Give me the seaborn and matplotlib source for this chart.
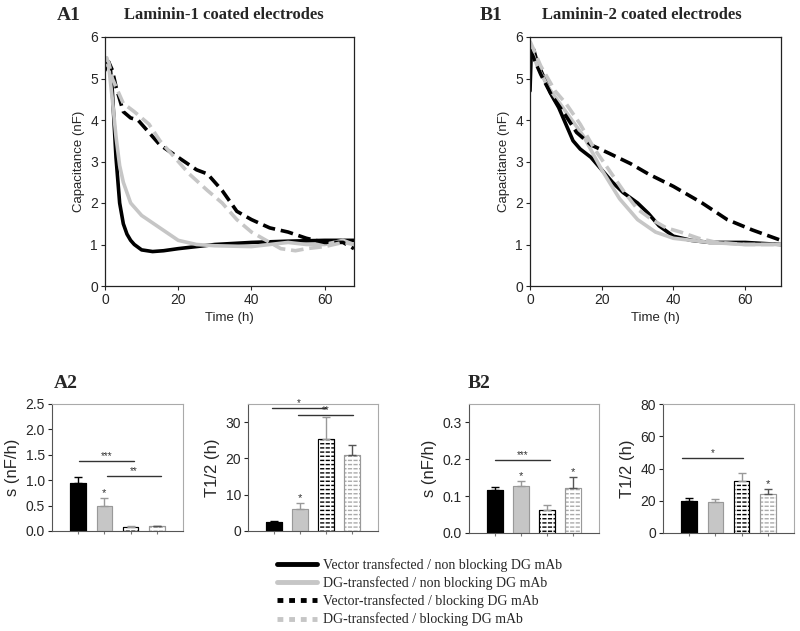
import numpy as np
import pandas as pd
import matplotlib
matplotlib.use("Agg")
import matplotlib.pyplot as plt
from matplotlib.lines import Line2D
import seaborn as sns

sns.set_style("ticks")
plt.rcParams['font.family'] = ['Liberation Sans', 'DejaVu Sans']

# ---- time course data ----
# A1 : laminin-1
a1_vec_t = [0, 0.5, 1, 1.5, 2, 2.5, 3, 4, 5, 6, 7, 8, 10, 13, 16, 20, 25, 30, 40, 50, 60, 68]
a1_vec_y = [5.2, 5.4, 5.4, 5.2, 4.7, 3.9, 3.1, 2.0, 1.5, 1.25, 1.1, 1.0, 0.87, 0.83, 0.85, 0.9, 0.95, 1.0, 1.05, 1.08, 1.1, 1.1]
a1_dg_t = [0, 0.5, 1, 2, 3, 4, 5, 7, 10, 15, 20, 25, 30, 40, 45, 50, 55, 60, 65, 68]
a1_dg_y = [5.3, 5.5, 5.3, 4.5, 3.6, 2.9, 2.5, 2.0, 1.7, 1.4, 1.1, 1.0, 0.97, 0.95, 1.0, 1.05, 1.0, 1.0, 1.1, 1.0]
a1_vecb_t = [0, 1, 2, 3, 5, 7, 9, 12, 15, 20, 25, 28, 32, 36, 40, 45, 50, 55, 60, 65, 68]
a1_vecb_y = [5.4, 5.4, 5.2, 4.8, 4.2, 4.05, 4.0, 3.7, 3.4, 3.1, 2.8, 2.7, 2.3, 1.8, 1.6, 1.4, 1.3, 1.15, 1.05, 1.05, 0.9]
a1_dgb_t = [0, 1, 2, 5, 8, 12, 15, 20, 23, 28, 32, 36, 40, 45, 48, 52, 55, 60, 65, 68]
a1_dgb_y = [5.5, 5.4, 5.0, 4.4, 4.2, 3.9, 3.5, 3.0, 2.7, 2.3, 2.0, 1.6, 1.3, 1.05, 0.9, 0.85, 0.9, 0.95, 1.05, 1.0]

# B1 : laminin-2
b1_vec_t = [0, 0.3, 1, 2, 4, 6, 8, 10, 12, 14, 17, 20, 23, 26, 30, 33, 36, 40, 45, 50, 55, 60, 70]
b1_vec_y = [4.7, 5.5, 5.7, 5.4, 5.0, 4.6, 4.3, 3.9, 3.5, 3.3, 3.1, 2.8, 2.5, 2.25, 2.0, 1.75, 1.45, 1.2, 1.1, 1.05, 1.05, 1.05, 1.0]
b1_dg_t = [0, 2, 5, 10, 15, 20, 25, 30, 35, 40, 45, 50, 60, 70]
b1_dg_y = [5.8, 5.3, 4.8, 4.2, 3.6, 2.8, 2.1, 1.6, 1.3, 1.15, 1.1, 1.05, 1.0, 1.0]
b1_vecb_t = [0, 3, 6, 10, 13, 17, 22, 28, 33, 40, 48, 55, 62, 70]
b1_vecb_y = [5.7, 5.1, 4.6, 4.1, 3.7, 3.4, 3.2, 2.95, 2.7, 2.4, 2.0, 1.6, 1.35, 1.1]
b1_dgb_t = [0, 3, 7, 10, 14, 18, 22, 26, 30, 34, 38, 42, 47, 52, 60, 70]
b1_dgb_y = [5.9, 5.3, 4.7, 4.4, 3.9, 3.3, 2.8, 2.3, 1.85, 1.6, 1.4, 1.3, 1.15, 1.05, 1.0, 1.0]

# ---- bar data ----
groups = ["vec", "dg", "vec_block", "dg_block"]
a2_s = [0.95, 0.50, 0.08, 0.09]
a2_s_err = [0.11, 0.15, 0.01, 0.01]
a2_t = [2.5, 6.2, 25.3, 21.0]
a2_t_err = [0.3, 1.5, 6.0, 2.7]
b2_s = [0.118, 0.128, 0.063, 0.123]
b2_s_err = [0.008, 0.014, 0.012, 0.028]
b2_t = [20.0, 19.5, 32.0, 24.0]
b2_t_err = [2.0, 1.8, 5.0, 3.5]

legend_labels = ["Vector transfected / non blocking DG mAb",
                 "DG-transfected / non blocking DG mAb",
                 "Vector-transfected / blocking DG mAb",
                 "DG-transfected / blocking DG mAb"]

GREY = "#c6c6c6"
W, H = 800, 631
fig = plt.figure(figsize=(8, 6.31), dpi=100)


def box(x0, y0, x1, y1):
    return [x0 / W, 1 - y1 / H, (x1 - x0) / W, (y1 - y0) / H]


def time_panel(ax, series, xmax):
    styles = [("black", "-"), (GREY, "-"), ("black", (0, (3.5, 1.6))), (GREY, (0, (3.5, 1.6)))]
    for (t, y), (c, ls) in zip(series, styles):
        d = pd.DataFrame({"t": t, "y": y})
        sns.lineplot(data=d, x="t", y="y", ax=ax, color=c, lw=2.6, linestyle=ls)
    ax.set_xlim(0, xmax)
    ax.set_ylim(0, 6)
    ax.set_xticks([0, 20, 40, 60])
    ax.set_yticks(range(7))
    ax.set_xlabel("Time (h)", fontsize=9.5)
    ax.set_ylabel("Capacitance (nF)", fontsize=9.5)
    ax.tick_params(labelsize=10, length=3, width=0.8, pad=2)
    for s in ax.spines.values():
        s.set_linewidth(0.9)
        s.set_color("#222222")


ax1 = fig.add_axes(box(105, 37, 354, 286))
time_panel(ax1, [(a1_vec_t, a1_vec_y), (a1_dg_t, a1_dg_y),
                 (a1_vecb_t, a1_vecb_y), (a1_dgb_t, a1_dgb_y)], 68)
ax2 = fig.add_axes(box(530, 37, 781, 286))
time_panel(ax2, [(b1_vec_t, b1_vec_y), (b1_dg_t, b1_dg_y),
                 (b1_vecb_t, b1_vecb_y), (b1_dgb_t, b1_dgb_y)], 70)


def bar_panel(ax, vals, errs, ylim, yticks, fmt, ylabel, stars, sig):
    d = pd.DataFrame({"g": groups, "v": vals})
    sns.barplot(data=d, x="g", y="v", ax=ax, width=0.6, errorbar=None,
                order=groups)
    faces = ["black", GREY, "white", "white"]
    edges = ["black", "#999999", "black", "#999999"]
    hatches = [None, None, "----", "----"]
    hcols = ["black", GREY, "black", "#aaaaaa"]
    bars = list(ax.patches[:4])
    for i, p in enumerate(bars):
        p.set_facecolor(faces[i])
        p.set_edgecolor(hcols[i])
        p.set_linewidth(0.8)
        if hatches[i]:
            p.set_hatch(hatches[i])
            # white vertical gaps break the hatch into dashes
            ax.add_patch(plt.Rectangle((p.get_x(), 0), p.get_width(), p.get_height(),
                                       fill=False, edgecolor="white", lw=0, hatch="|||",
                                       zorder=2.5))
        # outline
        ax.add_patch(plt.Rectangle((p.get_x(), 0), p.get_width(), p.get_height(),
                                   fill=False, edgecolor=edges[i], lw=0.8, zorder=3))
    ecols = ["black", "#999999", "#999999", "#555555"]
    for i in range(4):
        ax.errorbar(i, vals[i] + errs[i] / 2, yerr=errs[i] / 2, fmt="none",
                    ecolor=ecols[i], elinewidth=1, capsize=3, capthick=1, zorder=4)
        if stars[i]:
            ax.text(i, vals[i] + errs[i], "*", ha="center", va="bottom",
                    fontsize=8, color="#333333")
    for x0, x1, y, lab in sig:
        ax.plot([x0, x1], [y, y], color="#333333", lw=1, clip_on=False)
        ax.text((x0 + x1) / 2, y, lab, ha="center", va="bottom", fontsize=7,
                color="#333333")
    ax.set_xlim(-1, 4)
    ax.set_ylim(*ylim)
    ax.set_yticks(yticks)
    ax.set_yticklabels([fmt.format(v) for v in yticks])
    ax.set_xticks(range(4))
    ax.set_xticklabels([])
    ax.set_xlabel("")
    ax.set_ylabel(ylabel, fontsize=12)
    ax.tick_params(axis="y", labelsize=10, length=3, pad=2)
    ax.tick_params(axis="x", length=2.5, color="#777777")
    for s in ax.spines.values():
        s.set_color("#aaaaaa")
        s.set_linewidth(0.8)
    ax.spines["left"].set_color("#555555")
    ax.spines["bottom"].set_color("#555555")


ax3 = fig.add_axes(box(52, 404, 183, 531))
bar_panel(ax3, a2_s, a2_s_err, (0, 2.5), [0, 0.5, 1.0, 1.5, 2.0, 2.5], "{:.1f}",
          "s (nF/h)", [False, True, False, False],
          [(0.03, 2.13, 1.38, "***"), (1.1, 3.15, 1.09, "**")])
ax4 = fig.add_axes(box(248, 404, 378, 531))
bar_panel(ax4, a2_t, a2_t_err, (0, 35), [0, 10, 20, 30], "{:.0f}",
          "T1/2 (h)", [False, True, False, False],
          [(-0.08, 2.0, 33.9, "*"), (0.92, 3.04, 32.0, "**")])
ax5 = fig.add_axes(box(469, 404, 599, 533))
bar_panel(ax5, b2_s, b2_s_err, (0, 0.35), [0.0, 0.1, 0.2, 0.3], "{:.1f}",
          "s (nF/h)", [False, True, False, True],
          [(0, 2.1, 0.198, "***")])
ax6 = fig.add_axes(box(663, 404, 794, 533))
bar_panel(ax6, b2_t, b2_t_err, (0, 80), [0, 20, 40, 60, 80], "{:.0f}",
          "T1/2 (h)", [False, False, False, True],
          [(-0.27, 2.05, 46.5, "*")])

# panel letters and titles
serif = ['Liberation Serif', 'DejaVu Serif']
fig.text(57 / W, 1 - 15 / H, "A1", fontsize=14, fontweight="bold", family=serif, va="center")
fig.text(224 / W, 1 - 15 / H, "Laminin-1 coated electrodes", fontsize=12, fontweight="bold",
         family=serif, va="center", ha="center")
fig.text(480 / W, 1 - 15 / H, "B1", fontsize=14, fontweight="bold", family=serif, va="center")
fig.text(642 / W, 1 - 15 / H, "Laminin-2 coated electrodes", fontsize=12, fontweight="bold",
         family=serif, va="center", ha="center")
fig.text(54 / W, 1 - 383 / H, "A2", fontsize=14, fontweight="bold", family=serif, va="center")
fig.text(468 / W, 1 - 383 / H, "B2", fontsize=14, fontweight="bold", family=serif, va="center")

# legend
handles = [Line2D([], [], color="black", lw=3.5),
           Line2D([], [], color=GREY, lw=3.5),
           Line2D([], [], color="black", lw=3.5, linestyle=(0, (1.2, 1.2))),
           Line2D([], [], color=GREY, lw=3.5, linestyle=(0, (1.2, 1.2)))]
fig.legend(handles, legend_labels, loc="upper left", bbox_to_anchor=(277 / W, 1 - 558 / H),
           frameon=False, prop={"family": serif, "size": 10}, handlelength=2.9,
           handletextpad=0.4, labelspacing=0.32, borderpad=0, borderaxespad=0)

fig.savefig("out.png", dpi=100)
